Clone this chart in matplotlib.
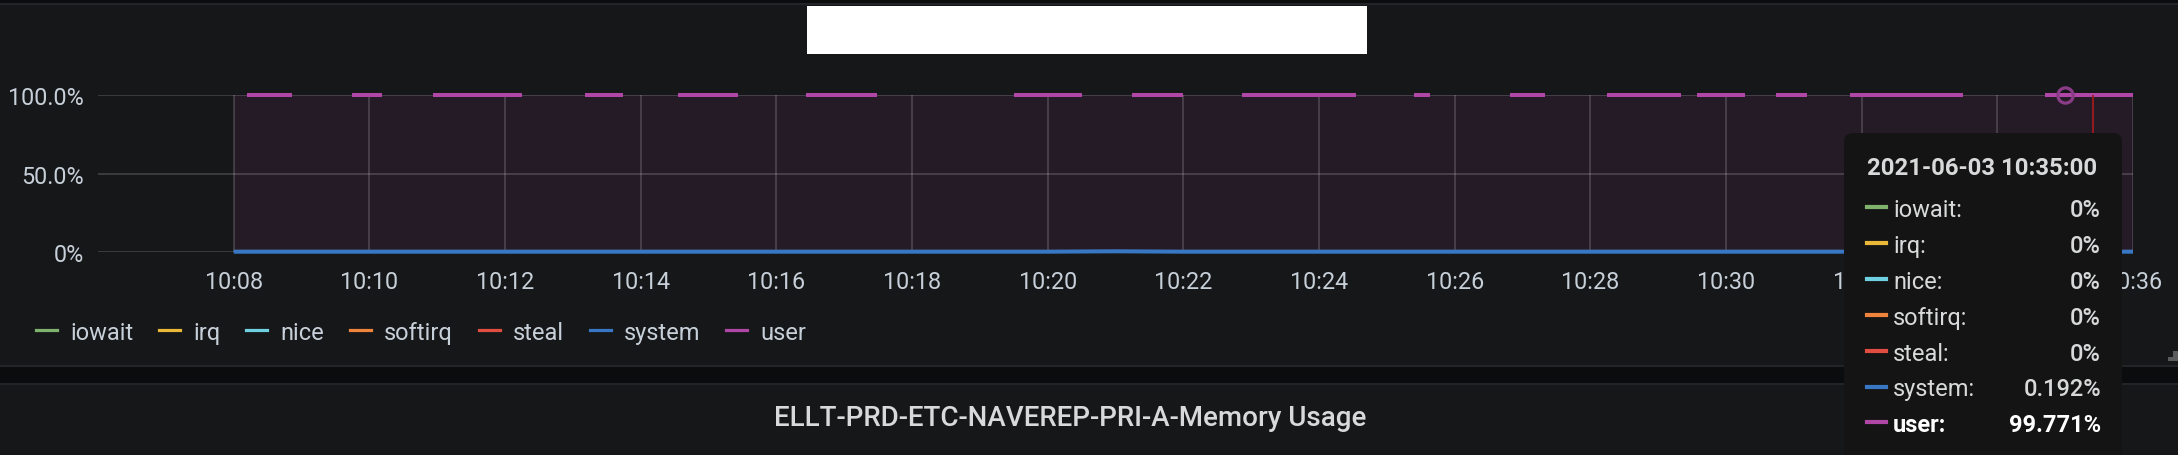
import matplotlib
matplotlib.use("Agg")
import matplotlib.pyplot as plt
import matplotlib.dates as mdates
from matplotlib.patches import Rectangle, FancyBboxPatch
from matplotlib.transforms import IdentityTransform
from datetime import datetime
import numpy as np

plt.rcParams['font.family'] = ['Roboto', 'DejaVu Sans']

# ---------------- data ----------------
day = "2021-06-03"
series_names = ["iowait", "irq", "nice", "softirq", "steal", "system", "user"]
series_colors = ["#7eb26d", "#eab839", "#6ed0e0", "#ef843c", "#e24d42", "#3777c3", "#b047a7"]

# system (and the zero-valued series) sampled along the range
system_times = ["10:08:00", "10:10:00", "10:12:00", "10:14:00", "10:16:00", "10:18:00",
                "10:20:00", "10:21:00", "10:22:00", "10:24:00", "10:26:00", "10:28:00",
                "10:30:00", "10:32:00", "10:34:00", "10:36:00"]
system_values = [0.19, 0.19, 0.19, 0.19, 0.19, 0.19, 0.19, 0.45, 0.19, 0.19, 0.19, 0.19,
                 0.19, 0.19, 0.19, 0.192]
zero_values = [0.0] * len(system_times)

# user series: nan marks a gap (null) between runs of points
user_times = ["10:08:12", "10:08:52", "10:09:20",
              "10:09:45", "10:10:11", "10:10:30",
              "10:10:56", "10:12:15", "10:12:40",
              "10:13:11", "10:13:44", "10:14:10",
              "10:14:33", "10:15:26", "10:16:00",
              "10:16:26", "10:17:29", "10:18:30",
              "10:19:30", "10:20:30", "10:20:50",
              "10:21:15", "10:22:00", "10:22:30",
              "10:22:52", "10:24:33", "10:25:00",
              "10:25:24", "10:25:38", "10:26:10",
              "10:26:49", "10:27:20", "10:27:50",
              "10:28:15", "10:29:20", "10:29:27",
              "10:29:34", "10:30:17", "10:30:30",
              "10:30:44", "10:31:12", "10:31:30",
              "10:31:50", "10:33:30", "10:34:00",
              "10:34:42", "10:36:00"]
user_values = [99.77, 99.77, np.nan,
               99.77, 99.77, np.nan,
               99.77, 99.77, np.nan,
               99.77, 99.77, np.nan,
               99.77, 99.77, np.nan,
               99.77, 99.77, np.nan,
               99.77, 99.77, np.nan,
               99.77, 99.77, np.nan,
               99.77, 99.77, np.nan,
               99.77, 99.77, np.nan,
               99.77, 99.77, np.nan,
               99.77, 99.77, np.nan,
               99.77, 99.77, np.nan,
               99.77, 99.77, np.nan,
               99.77, 99.77, np.nan,
               99.771, 99.771]

x_range = ["10:06:00", "10:36:00"]
xtick_labels = ["10:08", "10:10", "10:12", "10:14", "10:16", "10:18", "10:20", "10:22",
                "10:24", "10:26", "10:28", "10:30", "10:32", "10:34", "10:36"]
ytick_values = [0, 50, 100]
ytick_labels = ["0%", "50.0%", "100.0%"]

hover_time = "10:35:00"
crosshair_time = "10:35:25"
tooltip_title = "2021-06-03 10:35:00"
tooltip_values = [0, 0, 0, 0, 0, 0.192, 99.771]
bottom_panel_title = "ELLT-PRD-ETC-NAVEREP-PRI-A-Memory Usage"


def T(s):
    return datetime.strptime(day + " " + s, "%Y-%m-%d %H:%M:%S")


# ---------------- figure ----------------
W, H, DPI = 2178, 456, 100
BG = "#161719"
TXT = "#c7d0d9"
fig = plt.figure(figsize=(W / DPI, H / DPI), dpi=DPI, facecolor=BG)


def fx(x):
    return x / W


def fy(y):
    return 1 - y / H


def prect(x0, y0, x1, y1, color, z=1):
    fig.add_artist(Rectangle((fx(x0), fy(y1)), fx(x1) - fx(x0), fy(y0) - fy(y1),
                             transform=fig.transFigure, facecolor=color,
                             edgecolor="none", zorder=z))


# frame bands
prect(0, 0, W, 4, "#0b0c0e")
prect(0, 4, W, 5.5, "#222428")
prect(0, 365.5, W, 368, "#222428")
prect(0, 368, W, 384, "#0b0c0e")
prect(0, 384, W, 386, "#222428")
# redaction box over title
prect(807, 7, 1367, 55, "#ffffff")
# resize handle
prect(2168, 358, W, 362, "#5c5c5c")
prect(2173, 352, W, 362, "#5c5c5c")

# ---------------- axes ----------------
L, R, TOP, BOT = 98, 2133, 96, 253
ax = fig.add_axes([fx(L), fy(BOT), fx(R) - fx(L), fy(TOP) - fy(BOT)])
ax.set_facecolor("none")
for s in ax.spines.values():
    s.set_visible(False)

st = [T(t) for t in system_times]
ut = [T(t) for t in user_times]

# fill under user series
ax.fill_between([st[0], st[-1]], 0, [tooltip_values[-1], tooltip_values[-1]],
                color=series_colors[-1], alpha=0.10, linewidth=0, zorder=1)

# zero-valued series
for name, col in zip(series_names[:5], series_colors[:5]):
    ax.plot(st, zero_values, color=col, lw=2.9, zorder=2, solid_capstyle="butt")
# system
ax.plot(st, system_values, color=series_colors[5], lw=2.9, zorder=3,
        clip_on=False, solid_capstyle="butt")
# user
ax.plot(ut, user_values, color=series_colors[6], lw=2.9, zorder=3,
        clip_on=False, solid_capstyle="butt")

# crosshair + hover marker
ax.axvline(T(crosshair_time), color="#a01a1e", lw=1.3, zorder=4)
ax.plot([T(hover_time)], [tooltip_values[-1]], marker="o", ms=11, mfc="none",
        mec="#8a3d86", mew=2.3, zorder=5, clip_on=False)

ax.set_xlim(T(x_range[0]), T(x_range[1]))
ax.set_ylim(0, 100)
ax.set_xticks([T(t + ":00") for t in xtick_labels])
ax.set_xticklabels(xtick_labels)
ax.set_yticks(ytick_values)
ax.set_yticklabels(ytick_labels)
ax.tick_params(axis="both", length=0, colors=TXT, labelsize=16.8)
ax.tick_params(axis="x", pad=13)
ax.tick_params(axis="y", pad=10)
ax.set_axisbelow("line")
ax.grid(True, color="#ffffff", alpha=0.17, lw=1.3)

# ---------------- legend ----------------
fig.canvas.draw()
renderer = fig.canvas.get_renderer()
lx = 36
ly = 331
for name, col in zip(series_names, series_colors):
    fig.add_artist(plt.Line2D([fx(lx), fx(lx + 21)], [fy(ly), fy(ly)],
                              transform=fig.transFigure, color=col, lw=2.3))
    t = fig.text(fx(lx + 34), fy(ly), name, color=TXT, fontsize=17,
                 ha="left", va="center_baseline")
    w = t.get_window_extent(renderer).width
    lx = lx + 34 + w + 26

# ---------------- bottom panel title ----------------
fig.text(fx(1070), fy(416), bottom_panel_title, color="#d8d9da", fontsize=20,
         fontweight="medium", ha="center", va="center_baseline")

# ---------------- tooltip ----------------
tx0, ty0, tx1, ty1 = 1844, 134, 2122, 475
tip = FancyBboxPatch((tx0, H - ty1), tx1 - tx0, ty1 - ty0,
                     boxstyle="round,pad=0,rounding_size=9",
                     transform=IdentityTransform(), facecolor="#141414",
                     edgecolor="none", zorder=10)
fig.add_artist(tip)
fig.text(fx(1982), fy(166), tooltip_title, color="#d8d9da", fontsize=17.2,
         fontweight="bold", ha="center", va="center_baseline", zorder=11)
row_y0, row_dy = 208, 35.9
for i, (name, col, v) in enumerate(zip(series_names, series_colors, tooltip_values)):
    y = row_y0 + i * row_dy
    is_user = (name == "user")
    fig.add_artist(plt.Line2D([fx(1867), fx(1886)], [fy(y), fy(y)],
                              transform=fig.transFigure, color=col, lw=3, zorder=11))
    fig.text(fx(1893), fy(y), name + ":", color="#ffffff" if is_user else "#d8d9da",
             fontsize=17, fontweight="bold" if is_user else "normal",
             ha="left", va="center_baseline", zorder=11)
    fig.text(fx(2101), fy(y), "%g%%" % v, color="#ffffff" if is_user else "#d8d9da",
             fontsize=17, fontweight="bold" if is_user else "medium",
             ha="right", va="center_baseline", zorder=11)

fig.savefig("out.png", dpi=DPI, facecolor=BG)
